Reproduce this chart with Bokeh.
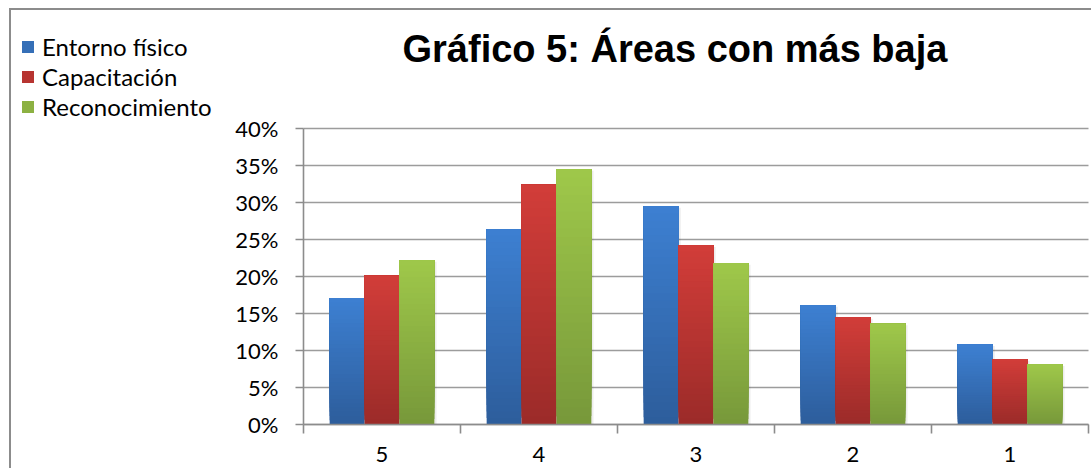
import numpy as np
from bokeh.plotting import figure
from bokeh.models import (Range1d, FixedTicker, Legend, LegendItem, Label,
                          ColumnDataSource)
from bokeh.embed import file_html
from bokeh.resources import INLINE

# ---- data ----
categories = ["5", "4", "3", "2", "1"]
entorno = [0.171, 0.264, 0.295, 0.161, 0.108]
capacitacion = [0.201, 0.324, 0.242, 0.145, 0.088]
reconocimiento = [0.222, 0.345, 0.218, 0.136, 0.081]
series_names = ["Entorno físico", "Capacitación", "Reconocimiento"]
y_ticks = [0.0, 0.05, 0.10, 0.15, 0.20, 0.25, 0.30, 0.35, 0.40]
y_tick_labels = ["0%", "5%", "10%", "15%", "20%", "25%", "30%", "35%", "40%"]
title_text = "Gráfico 5: Áreas con más baja"

# gradient colours (top, bottom) per series
grad = [("#3d80d2", "#2d5d9b"), ("#d23d39", "#9b2b29"), ("#9fc84a", "#77983a")]

FONT = "Lato"
GRAY = "#8c8c8c"

W, H = 1091, 468
# plot area (pixels) inside the canvas, as in the reference layout
PX_LEFT, PX_RIGHT, PX_TOP, PX_BOTTOM = 303, 1088, 128, 424
ncat = len(categories)
ymax = y_ticks[-1]
ux = (PX_RIGHT - PX_LEFT) / ncat          # px per category
uy = (PX_BOTTOM - PX_TOP) / ymax          # px per unit of y
x_range = Range1d(-PX_LEFT / ux, ncat + (W - PX_RIGHT) / ux)
y_range = Range1d(-(H - PX_BOTTOM) / uy, ymax + PX_TOP / uy)

p = figure(width=W, height=H, output_backend="svg", toolbar_location=None,
           x_range=x_range, y_range=y_range,
           min_border_left=0, min_border_right=0, min_border_top=0,
           min_border_bottom=0)
p.outline_line_color = None
p.background_fill_alpha = 0
p.border_fill_alpha = 0
p.styles = {
    "background": ("linear-gradient(#8c8c8c,#8c8c8c) 9px 8px / 100% 2px no-repeat, "
                   "linear-gradient(#8c8c8c,#8c8c8c) 9px 8px / 2px 100% no-repeat, white"),
}

# grid
p.xgrid.visible = False
p.ygrid.ticker = FixedTicker(ticks=y_ticks)
p.ygrid.grid_line_color = "#9c9c9c"
p.ygrid.grid_line_width = 1.6
p.ygrid.bounds = (0, ymax)
p.ygrid.cross_bounds = (0, ncat)

# y axis
ya = p.yaxis[0]
ya.fixed_location = 0
ya.bounds = (0, ymax)
ya.ticker = FixedTicker(ticks=y_ticks)
ya.major_label_overrides = {t: l for t, l in zip(y_ticks, y_tick_labels)}
ya.axis_line_color = GRAY
ya.axis_line_width = 1.6
ya.major_tick_line_color = GRAY
ya.major_tick_line_width = 1.6
ya.major_tick_out = 8
ya.major_tick_in = 0
ya.minor_tick_line_color = None
ya.major_label_text_font = FONT
ya.major_label_text_font_size = "22px"
ya.major_label_text_color = "black"
ya.major_label_standoff = 17

# x axis: labels at category centres, ticks at category boundaries
xa = p.xaxis[0]
xa.fixed_location = 0
xa.bounds = (0, ncat)
centers = [i + 0.5 for i in range(ncat)]
bounds = [float(i) for i in range(ncat + 1)]
xa.ticker = FixedTicker(ticks=centers, minor_ticks=bounds)
xa.major_label_overrides = {c: cat for c, cat in zip(centers, categories)}
xa.axis_line_color = GRAY
xa.axis_line_width = 1.6
xa.major_tick_line_color = None
xa.major_tick_out = 0
xa.major_tick_in = 0
xa.minor_tick_line_color = GRAY
xa.minor_tick_line_width = 1.6
xa.minor_tick_out = 9
xa.minor_tick_in = 0
xa.major_label_text_font = FONT
xa.major_label_text_font_size = "22px"
xa.major_label_text_color = "black"
xa.major_label_standoff = 13


def hex2rgb(h):
    h = h.lstrip("#")
    return np.array([int(h[i:i + 2], 16) for i in (0, 2, 4)], dtype=float)


def mix(c1, c2, t):
    c = hex2rgb(c1) * (1 - t) + hex2rgb(c2) * t
    return "#%02x%02x%02x" % tuple(int(round(v)) for v in c)


NS = 30
bar_w = 1 / 4.5
all_series = [entorno, capacitacion, reconocimiento]
items = []
for s, (vals, name, (ctop, cbot)) in enumerate(zip(all_series, series_names, grad)):
    xs, bots, tops, cols = [], [], [], []
    for i, v in enumerate(vals):
        xc = i + 0.5 + (s - 1) * bar_w
        for k in range(NS):
            xs.append(xc)
            bots.append(v * k / NS)
            tops.append(v)
            cols.append(mix(cbot, ctop, (k + 0.5) / NS))
    src = ColumnDataSource(dict(x=xs, bottom=bots, top=tops, color=cols))
    # soft shadow
    sh = ColumnDataSource(dict(x=[i + 0.5 + (s - 1) * bar_w + 0.014 for i in range(len(vals))],
                               top=[v - 0.002 for v in vals]))
    p.vbar(x="x", top="top", bottom=0, width=bar_w, source=sh,
           fill_color="#000000", fill_alpha=0.07, line_color=None)
    r = p.vbar(x="x", top="top", bottom="bottom", width=bar_w, source=src,
               fill_color="color", line_color=None)
    items.append(LegendItem(label=name, renderers=[r], index=NS // 2))

legend = Legend(items=items, location=(20, H - 121), orientation="vertical",
                label_text_font=FONT, label_text_font_size="24px",
                label_text_color="black", glyph_width=15, glyph_height=15,
                label_height=20, spacing=1, padding=0, margin=0,
                label_standoff=7, border_line_color=None,
                background_fill_alpha=0)
p.add_layout(legend, "center")

title = Label(x=402, y=H - 48, x_units="screen", y_units="screen", text=title_text,
              text_font="Liberation Sans", text_font_style="bold",
              text_font_size="38px", text_color="black",
              text_baseline="alphabetic")
p.add_layout(title)

open("out.html", "w").write(file_html(p, INLINE))
